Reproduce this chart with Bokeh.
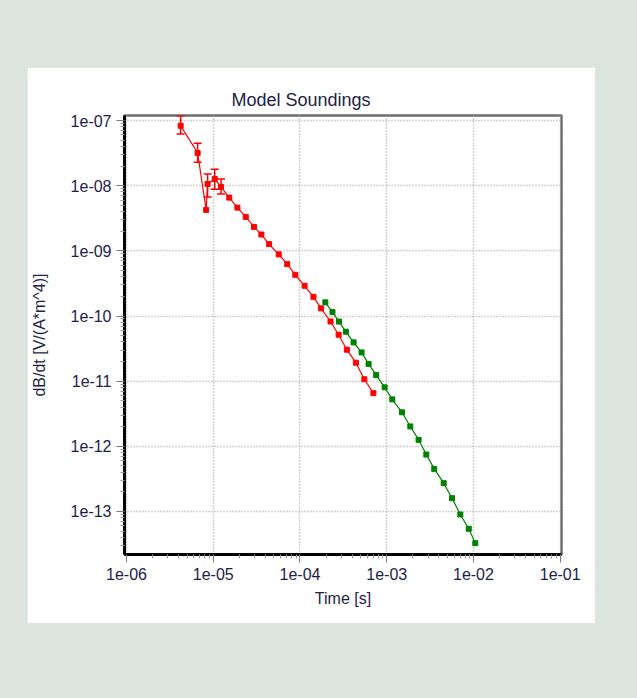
from bokeh.plotting import figure
from bokeh.models import (FixedTicker, CustomJSTickFormatter, Whisker, TeeHead,
                          ColumnDataSource, Spacer, Range1d)
from bokeh.layouts import column, row
from bokeh.embed import file_html
from bokeh.resources import INLINE

# ---- data ----
red_time = [4.21e-6, 6.61e-6, 8.28e-6, 8.61e-6, 1.04e-5, 1.23e-5, 1.53e-5, 1.90e-5,
            2.37e-5, 2.95e-5, 3.59e-5, 4.40e-5, 5.69e-5, 7.13e-5, 8.83e-5, 1.13e-4,
            1.43e-4, 1.75e-4, 2.25e-4, 2.79e-4, 3.47e-4, 4.41e-4, 5.52e-4, 7.02e-4]
red_value = [8.32e-8, 3.18e-8, 4.25e-9, 1.06e-8, 1.27e-8, 9.57e-9, 6.56e-9, 4.61e-9,
             3.32e-9, 2.33e-9, 1.78e-9, 1.27e-9, 8.83e-10, 6.25e-10, 4.29e-10, 2.91e-10,
             1.97e-10, 1.31e-10, 8.24e-11, 5.16e-11, 3.04e-11, 1.92e-11, 1.07e-11, 6.55e-12]

err_time = [4.21e-6, 6.61e-6, 8.61e-6, 1.04e-5, 1.23e-5]
err_upper = [1.18e-7, 4.48e-8, 1.51e-8, 1.79e-8, 1.27e-8]
err_lower = [6.20e-8, 2.29e-8, 6.73e-9, 8.83e-9, 7.48e-9]

green_time = [1.96e-4, 2.37e-4, 2.82e-4, 3.38e-4, 4.15e-4, 5.13e-4, 6.18e-4, 7.57e-4,
              9.46e-4, 1.16e-3, 1.50e-3, 1.87e-3, 2.33e-3, 2.86e-3, 3.53e-3, 4.54e-3,
              5.66e-3, 7.06e-3, 8.83e-3, 1.05e-2]
green_value = [1.62e-10, 1.15e-10, 8.22e-11, 5.74e-11, 3.94e-11, 2.76e-11, 1.84e-11,
               1.24e-11, 8.04e-12, 5.25e-12, 3.33e-12, 2.02e-12, 1.26e-12, 7.48e-13,
               4.51e-13, 2.72e-13, 1.60e-13, 8.99e-14, 5.43e-14, 3.27e-14]

x_ticks = [1e-6, 1e-5, 1e-4, 1e-3, 1e-2, 1e-1]
y_ticks = [1e-13, 1e-12, 1e-11, 1e-10, 1e-9, 1e-8, 1e-7]

FONT = "Liberation Sans"
TEXT_COLOR = "#1e1e46"

p = figure(x_axis_type="log", y_axis_type="log",
           x_range=Range1d(10 ** -6.023, 10 ** -0.985),
           y_range=Range1d(10 ** -13.66, 10 ** -6.923),
           frame_width=437, frame_height=439,
           min_border_left=96, min_border_right=34,
           min_border_top=48, min_border_bottom=69,
           output_backend="svg", toolbar_location=None,
           title="Model Soundings")

p.background_fill_color = "white"
p.border_fill_color = "white"
p.outline_line_color = "#6e6e6e"
p.outline_line_width = 2.5

p.title.text = "Model Soundings"
p.title.align = "left"
p.title.offset = 107
p.title.text_font = FONT
p.title.text_font_size = "18px"
p.title.text_font_style = "normal"
p.title.text_color = TEXT_COLOR
p.title.standoff = 11

def minor_of(major):
    out = []
    for m in major[:-1]:
        for k in range(2, 10):
            out.append(m * k)
    return out

for ax, ticks in ((p.xaxis[0], x_ticks), (p.yaxis[0], y_ticks)):
    ax.ticker = FixedTicker(ticks=ticks, minor_ticks=minor_of(ticks) + [ticks[0] / 10 * k for k in range(2, 10)])
    ax.formatter = CustomJSTickFormatter(code="""
        var s = tick.toExponential(0);
        return s.replace(/e([+-])(\\d)$/, 'e$10$2').replace('e+', 'e');
    """)
    ax.axis_line_color = "black"
    ax.axis_line_width = 3
    ax.major_tick_line_color = "#7a7a7a"
    ax.minor_tick_line_color = "#9a9a9a"
    ax.major_tick_out = 8
    ax.major_tick_in = 0
    ax.minor_tick_out = 4
    ax.minor_tick_in = 0
    ax.major_label_text_font = FONT
    ax.major_label_text_font_size = "16px"
    ax.major_label_text_color = TEXT_COLOR
    ax.major_label_standoff = 5
    ax.axis_label_text_font = FONT
    ax.axis_label_text_font_size = "16px"
    ax.axis_label_text_font_style = "normal"
    ax.axis_label_text_color = TEXT_COLOR

p.xaxis.axis_label = "Time [s]"
p.xaxis.axis_label_standoff = 7
p.yaxis.axis_label = "dB/dt [V/(A*m^4)]"
p.yaxis.axis_label_standoff = 20

for g in (p.xgrid[0], p.ygrid[0]):
    g.grid_line_color = "#a8a8a8"
    g.grid_line_width = 1.5
    g.grid_line_dash = "1 2"

red_src = ColumnDataSource(dict(t=red_time, v=red_value))
green_src = ColumnDataSource(dict(t=green_time, v=green_value))
err_src = ColumnDataSource(dict(t=err_time, lo=err_lower, hi=err_upper))

p.line("t", "v", source=red_src, line_color="#ff0000", line_width=1.2)
p.scatter("t", "v", source=red_src, marker="square", size=5,
          fill_color="#ff0000", line_color="#ff0000")

p.add_layout(Whisker(source=err_src, base="t", lower="lo", upper="hi",
                     line_color="#ff0000", line_width=1.5,
                     upper_head=TeeHead(size=8, line_color="#ff0000", line_width=1.5),
                     lower_head=TeeHead(size=8, line_color="#ff0000", line_width=1.5)))

p.line("t", "v", source=green_src, line_color="#008000", line_width=1.2)
p.scatter("t", "v", source=green_src, marker="square", size=5,
          fill_color="#008000", line_color="#008000")

layout = column(
    Spacer(width=637, height=67),
    row(Spacer(width=27, height=556), p, Spacer(width=43, height=556)),
    Spacer(width=637, height=75),
    styles={"background-color": "#dbe4dd"},
)

with open("out.html", "w") as f:
    f.write(file_html(layout, INLINE))
